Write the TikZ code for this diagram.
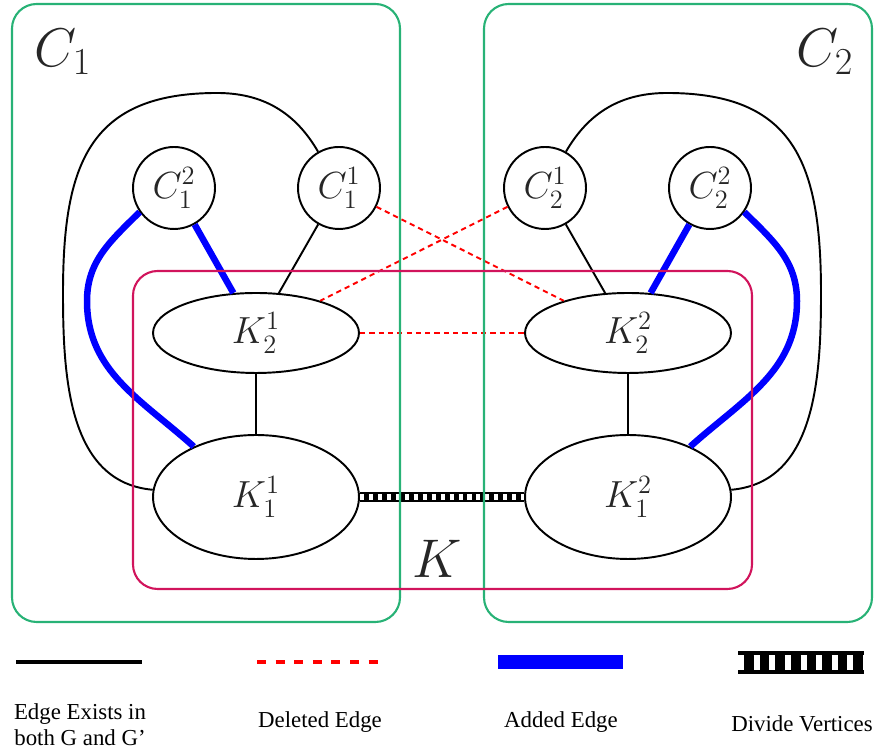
\RequirePackage{fix-cm}
\documentclass[tikz,border=0pt]{standalone}
\usepackage[no-math]{fontspec}
\newfontfamily\legendfont{Liberation Serif}
\usepackage{tikz}
\usetikzlibrary{shapes.geometric}
\definecolor{clustergreen}{RGB}{40,178,118}
\definecolor{kmagenta}{RGB}{209,20,92}
\definecolor{addblue}{RGB}{0,0,255}

\begin{document}
\begin{tikzpicture}[
    x=0.02cm,y=0.02cm,
    vert/.style={draw,circle,line width=1.1pt,fill=white,minimum size=1.64cm,inner sep=0pt,font=\fontsize{21.5}{25}\selectfont,text=black!85},
    kvert/.style={draw,ellipse,line width=1.1pt,fill=white,minimum width=4.12cm,inner sep=0pt,font=\fontsize{21.5}{25}\selectfont,text=black!85},
    keep/.style={line width=1.1pt},
    deleted/.style={red,line width=1.1pt,dash pattern=on 3pt off 2.3pt},
    added/.style={addblue,line width=3.7pt},
    divide/.style={line width=5.7pt,postaction={draw=white,line width=3.1pt,dash pattern=on 2.3pt off 2.8pt}},
    cluster/.style={draw=clustergreen,line width=1.2pt,rounded corners=14pt},
    kbox/.style={draw=kmagenta,line width=1.2pt,rounded corners=14pt},
    biglabel/.style={font=\fontsize{31}{36}\selectfont,text=black!85},
    legend/.style={font=\legendfont\fontsize{13}{14.8}\selectfont,align=center},
]
\useasboundingbox(0,0)rectangle(876,753);
% vertices
\node[vert](C12)at(174,565){$C_1^2$};
\node[vert](C11)at(339,565){$C_1^1$};
\node[vert](C21)at(545,565){$C_2^1$};
\node[vert](C22)at(710,565){$C_2^2$};
\node[kvert,minimum height=1.6cm](K21)at(256,420){$K_2^1$};
\node[kvert,minimum height=1.6cm](K22)at(628,420){$K_2^2$};
\node[kvert,minimum height=2.48cm](K11)at(256,256){$K_1^1$};
\node[kvert,minimum height=2.48cm](K12)at(628,256){$K_1^2$};
% edges
\draw[keep](K21)--(K11);
\draw[keep](K22)--(K12);
\draw[keep](C11)--(K21);
\draw[keep](C21)--(K22);
\draw[keep](C11.120)to[out=120,in=0](217,660)to[out=180,in=90,looseness=1.3](63,460)to[out=-90,in=175](K11.176);
\draw[keep](C21.60)to[out=60,in=180](667,660)to[out=0,in=90,looseness=1.3](821,460)to[out=-90,in=5](K12.4);
\draw[added](C12)--(K21);
\draw[added](C22)--(K22);
\draw[added](C12.215)to[out=225,in=90](87,452)to[out=-90,in=138](K11.141);
\draw[added](C22.-35)to[out=-45,in=90](797,452)to[out=-90,in=42](K12.39);
\draw[deleted](C11)--(K22);
\draw[deleted](C21)--(K21);
\draw[deleted](K21)--(K22);
\draw[divide](K11)--(K12);
% clusters
\draw[cluster](12,749)rectangle(400,131);
\draw[cluster](484,749)rectangle(872,131);
\draw[kbox](133,482)rectangle(752,164);
\node[biglabel](LC1)at(63,701){$C_1$};
\node[biglabel](LC2)at(825,701){$C_2$};
\node[biglabel](LK)at(437,194){$K$};
% legend
\coordinate(La)at(16,91);\coordinate(Lb)at(142,91);
\coordinate(Lc)at(257,91);\coordinate(Ld)at(378,91);
\coordinate(Le)at(498,91);\coordinate(Lf)at(623,91);
\coordinate(Lg)at(738,90.5);\coordinate(Lh)at(864,90.5);
\draw[keep,line width=2.6pt](La)--(Lb);
\draw[deleted,line width=2.6pt,dash pattern=on 5.1pt off 5.5pt](Lc)--(Ld);
\draw[added,line width=8pt](Le)--(Lf);
\draw[line width=13pt,postaction={draw=white,line width=8.5pt,dash pattern=on 3.4pt off 5.5pt}](Lg)--(Lh);
\node[legend](T1)at(80,28){Edge Exists in\\both G and G’};
\node[legend,anchor=base](T2)at(320,25){Deleted Edge};
\node[legend,anchor=base](T3)at(561,25){Added Edge};
\node[legend,anchor=base](T4)at(802,21){Divide Vertices};
\end{tikzpicture}
\end{document}
